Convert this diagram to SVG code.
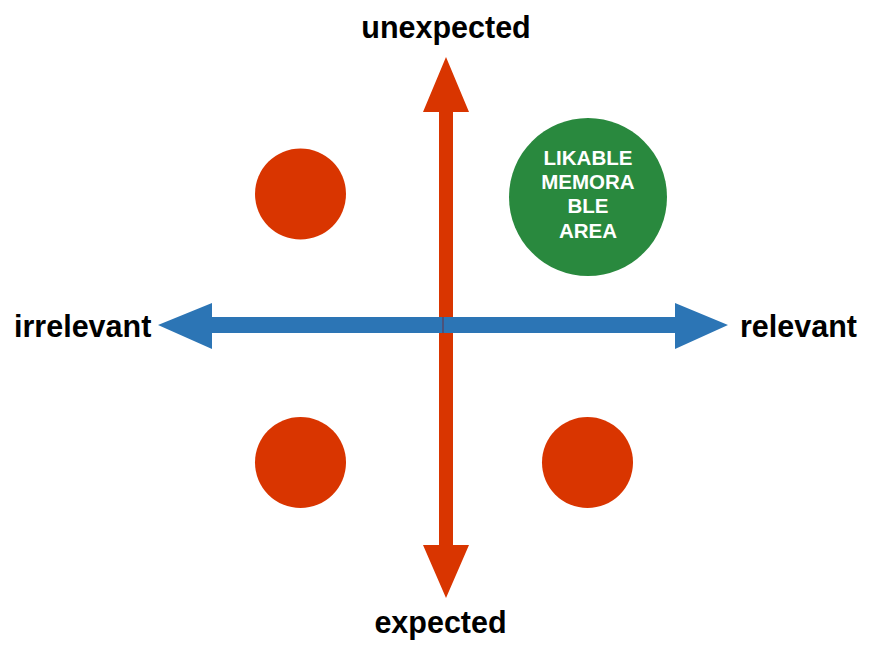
<svg xmlns="http://www.w3.org/2000/svg" width="876" height="654" viewBox="0 0 876 654">
<style>
.lbl{font-family:"Liberation Sans",Arial,Helvetica,sans-serif;font-weight:bold;font-size:30.5px;fill:#000}
.in{font-family:"Liberation Sans",Arial,Helvetica,sans-serif;font-weight:bold;font-size:20.5px;fill:#fff;text-anchor:middle}
.red{fill:#D93500}
.blue{fill:#2C75B5}
</style>
<rect width="876" height="654" fill="#fff"/>
<g id="connectors">
<polygon class="red" points="446,57 469,112 453,112 453,545 469,545 446,598 423,545 439,545 439,112 423,112"/>
<polygon class="blue" points="158,325 212,303 212,317 443,317 443,333 212,333 212,349"/>
<polygon class="blue" points="728,325 675,303 675,317 443,317 443,333 675,333 675,349"/>
<line x1="443" y1="317" x2="443" y2="333" stroke="#6a3040" stroke-width="1"/>
</g>
<g id="label-unexpected"><text class="lbl" x="446" y="38" text-anchor="middle">unexpected</text></g>
<g id="label-expected"><text class="lbl" x="440.5" y="633" text-anchor="middle">expected</text></g>
<g id="label-irrelevant"><text class="lbl" x="14" y="337">irrelevant</text></g>
<g id="label-relevant"><text class="lbl" x="740" y="337">relevant</text></g>
<g id="circle-tl"><circle class="red" cx="300.5" cy="194" r="45.5"/></g>
<g id="circle-bl"><circle class="red" cx="300.5" cy="462.5" r="45.5"/></g>
<g id="circle-br"><circle class="red" cx="587.5" cy="462.5" r="45.5"/></g>
<g id="circle-likable">
<circle cx="588" cy="197" r="79" fill="#29893E"/>
<text class="in" x="588" y="165">LIKABLE</text>
<text class="in" x="588" y="189">MEMORA</text>
<text class="in" x="588" y="213">BLE</text>
<text class="in" x="588" y="238">AREA</text>
</g>
</svg>
